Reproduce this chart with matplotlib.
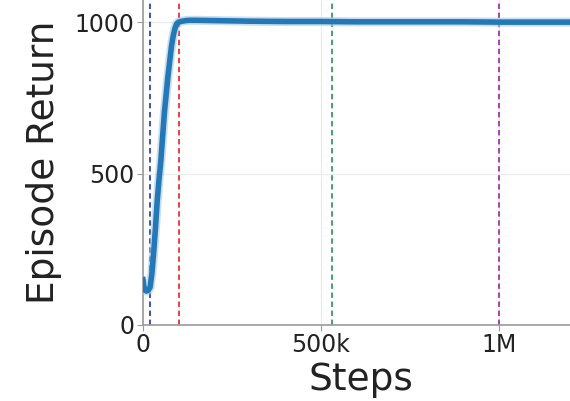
import matplotlib
matplotlib.use("Agg")
import matplotlib.pyplot as plt
from matplotlib.ticker import FuncFormatter

steps = [0, 2000, 5000, 10000, 15000, 20000, 25000, 30000, 35000, 40000, 45000, 50000,
         55000, 60000, 65000, 70000, 75000, 80000, 85000, 90000, 95000, 100000,
         110000, 120000, 130000, 150000, 200000, 300000, 400000, 500000, 600000,
         700000, 800000, 900000, 1000000, 1100000, 1200000]
returns = [150, 130, 115, 112, 115, 125, 170, 240, 320, 410, 480, 540,
           620, 700, 760, 820, 870, 920, 955, 980, 995, 1000,
           1003, 1005, 1006, 1006, 1005, 1003, 1002, 1002, 1001,
           1001, 1001, 1001, 1000, 1000, 1000]

vlines = [20000, 100000, 530000, 1000000]
vcolors = ["#2f45a8", "#e8323c", "#3a9a5a", "#9b3a9e"]

fig = plt.figure(figsize=(5.70, 4.01), dpi=100)
ax = fig.add_axes([143/570, 76/401, 1 - 143/570, 325/401])
ax.set_xlim(0, 1.2e6)
ax.set_ylim(0, 1073)

ax.grid(True, color="#ebebeb", linewidth=0.8)
ax.set_axisbelow(True)

for x, c in zip(vlines, vcolors):
    ax.axvline(x, color=c, linestyle=(0, (3, 2)), linewidth=1.3, zorder=2)

ax.plot(steps, returns, color="#a6c8e6", linewidth=6.5, alpha=0.6, zorder=3, solid_capstyle="butt")
ax.plot(steps, returns, color="#2378b5", linewidth=4, zorder=4)

ax.set_xticks([0, 500000, 1000000])
ax.xaxis.set_major_formatter(FuncFormatter(lambda v, p: "0" if v == 0 else (f"{int(v/1e6)}M" if v >= 1e6 else f"{int(v/1e3)}k")))
ax.set_yticks([0, 500, 1000])

for s in ["top", "right"]:
    ax.spines[s].set_visible(False)
for s in ["left", "bottom"]:
    ax.spines[s].set_color("#9a9a9a")
    ax.spines[s].set_linewidth(1.2)
ax.tick_params(colors="#9a9a9a", labelcolor="#222222", labelsize=17, length=4, pad=2)

ax.set_xlabel("Steps", fontsize=27, color="#222222")
ax.xaxis.set_label_coords(0.51, -0.115)
ax.set_ylabel("Episode Return", fontsize=27, color="#222222", labelpad=9)

fig.savefig("out.png", dpi=100)
